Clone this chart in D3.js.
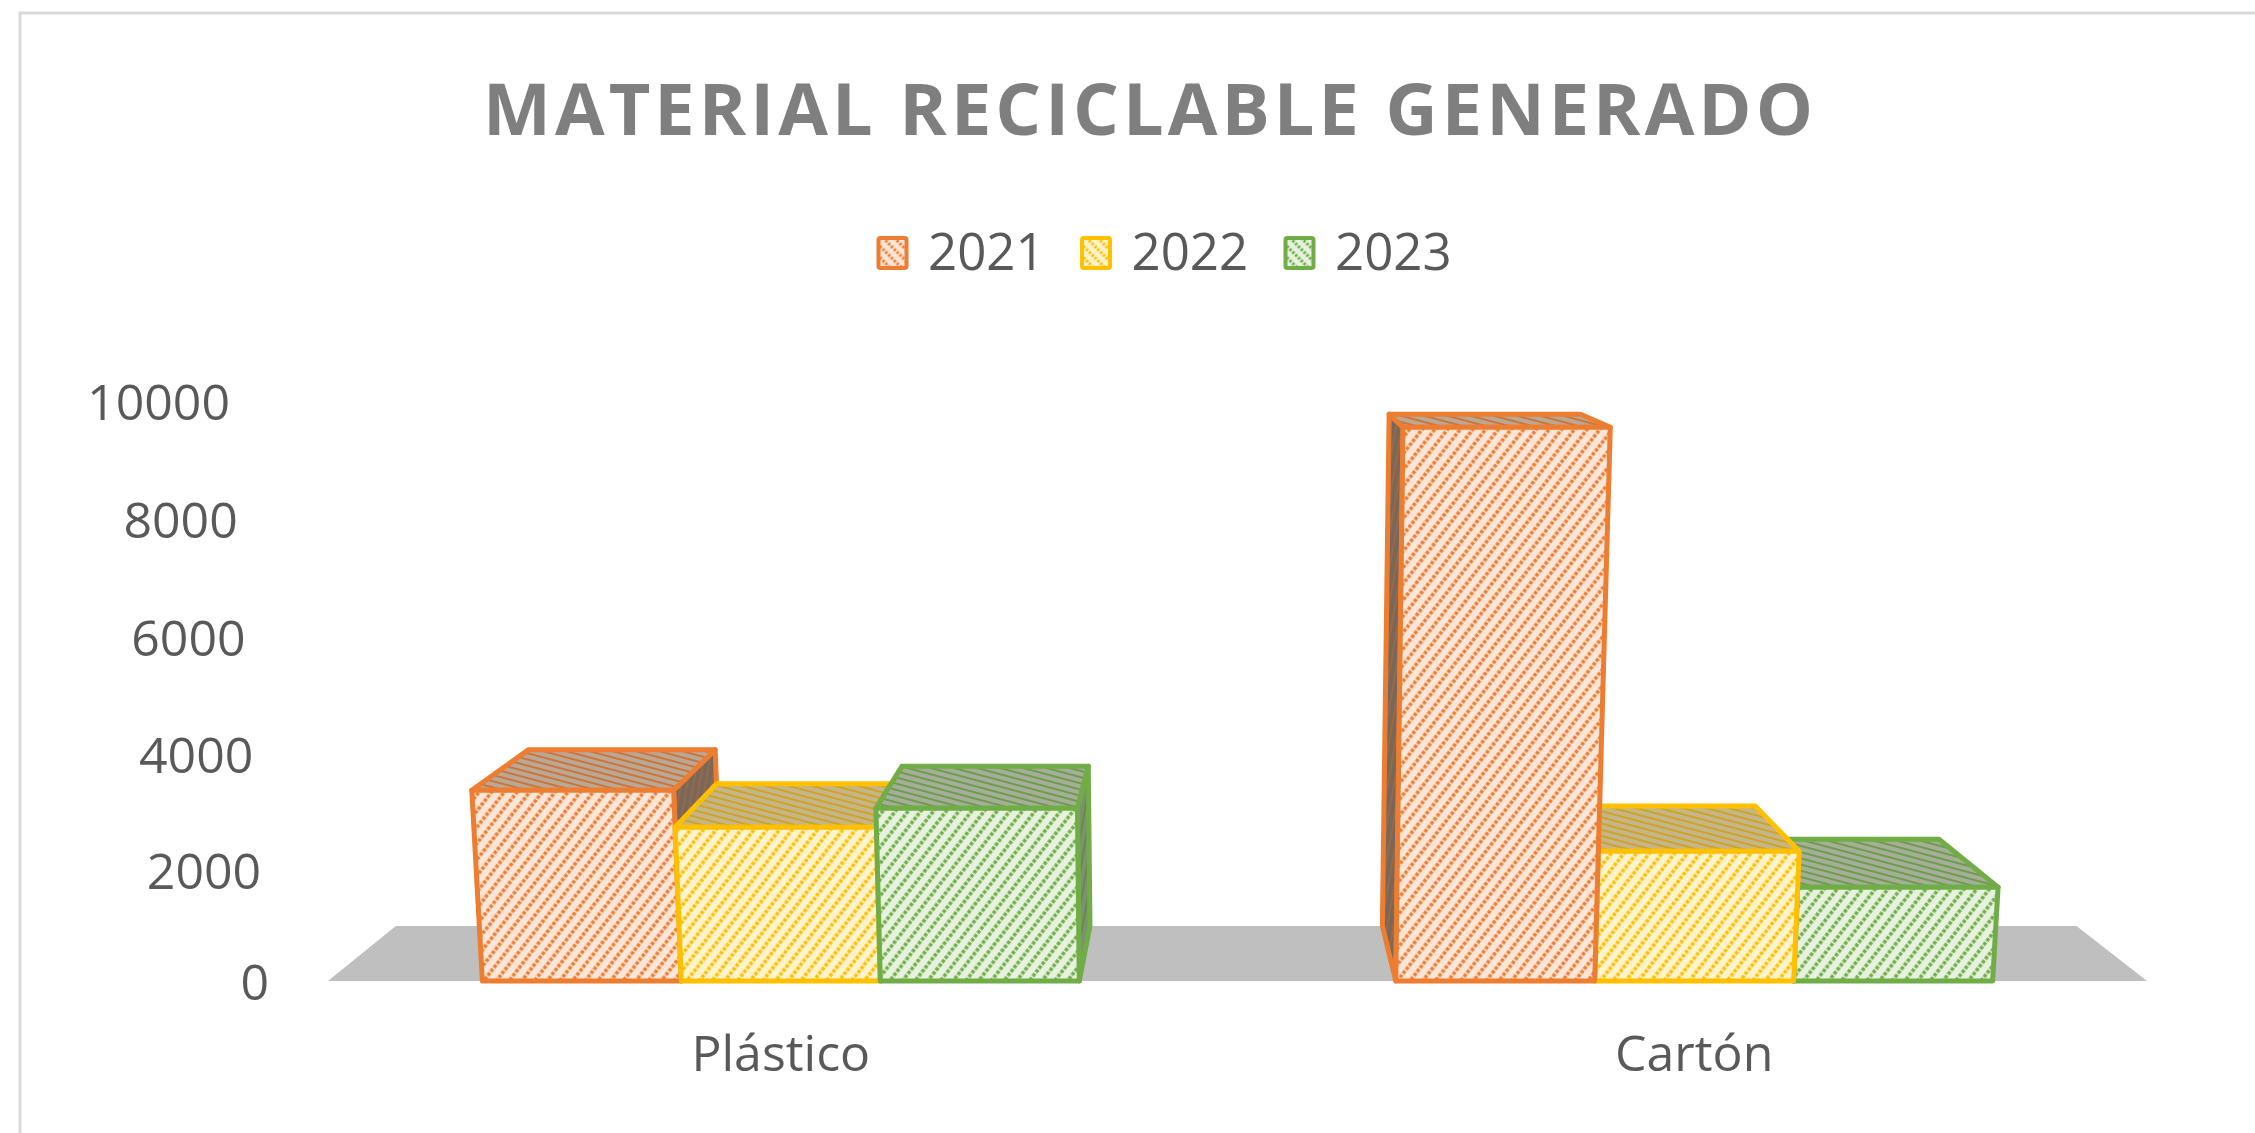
<!DOCTYPE html>
<html>
<head>
<meta charset="utf-8">
<script src="https://cdn.jsdelivr.net/npm/d3@7"></script>
<style>
  body { margin: 0; background: #fff; }
  svg { display: block; }
  text { font-family: "Open Sans", "Noto Sans", sans-serif; }
</style>
</head>
<body>
<svg id="chart"></svg>
<script>
// chart data
var categories = ["Plástico", "Cartón"];
var years = ["2021", "2022", "2023"];
var values2021 = [3390, 9560];
var values2022 = [2750, 2330];
var values2023 = [3080, 1700];
var yTicks = [0, 2000, 4000, 6000, 8000, 10000];
var title = "MATERIAL RECICLABLE GENERADO";

var series = [values2021, values2022, values2023];

// look
var colors = ["#ED7D31", "#FFC000", "#70AD47"];
var lightFill = ["#FDE6D8", "#FFF3CC", "#E6F2DE"];
var topBg = ["#bba894", "#c5b58a", "#a5af97"];
var topLine = ["#c8763c", "#cfa425", "#6e9b4f"];
var sideBg = ["#76685b", "#a8945c", "#7f8f72"];
var sideLine = ["#9a6846", "#c09a2c", "#668a4c"];

var screen = {width: 2255, height: 1133};
var svg = d3.select("#chart")
    .attr("width", screen.width)
    .attr("height", screen.height);

// 3d view: vanishing point for depth + small keystone on the verticals
var VP = {x: 1220, y: 256};
var depthS = 0.924;
var keyK = 7.5e-5;

var x = d3.scaleBand().domain(categories).range([328, 2147])
    .paddingInner(0.3465).paddingOuter(0.169);
var xs = d3.scaleBand().domain(years).range([0, x.bandwidth()]);
var y = d3.scalePow().exponent(1.028).domain([0, 10000]).range([981, 401]);
var labelX = d3.scaleLinear().domain([0, 10000]).range([269, 230]);
var base = y(0);

function proj(px, h, z) {
    var fx = VP.x + (px - VP.x) * (1 + keyK * h);
    var fy = base - h;
    if (!z) return [fx, fy];
    return [VP.x + (fx - VP.x) * depthS, VP.y + (fy - VP.y) * depthS];
}
var poly = function(pts) { return d3.line()(pts) + "Z"; };

// patterns
var defs = svg.append("defs");
function makePattern(id, size, rot, bg, line, w, dash) {
    var p = defs.append("pattern").attr("id", id)
        .attr("patternUnits", "userSpaceOnUse")
        .attr("width", size).attr("height", size)
        .attr("patternTransform", "rotate(" + rot + ")");
    p.append("rect").attr("width", size).attr("height", size).attr("fill", bg);
    p.append("line").attr("x1", size / 2).attr("x2", size / 2)
        .attr("y1", 0).attr("y2", size)
        .attr("stroke", line).attr("stroke-width", w)
        .attr("stroke-dasharray", dash);
}
colors.forEach(function(c, i) {
    makePattern("front" + i, 10, 38, lightFill[i], c, 3.5, "3.5 1.5");
    makePattern("top" + i, 6, -75, topBg[i], topLine[i], 2, "none");
    makePattern("side" + i, 6, 10, sideBg[i], sideLine[i], 2, "none");
    makePattern("leg" + i, 8, -45, lightFill[i], c, 3, "2.5 1.5");
});

// frame
svg.append("rect").attr("x", 20).attr("y", 13)
    .attr("width", screen.width).attr("height", screen.height)
    .attr("fill", "none").attr("stroke", "#d9d9d9").attr("stroke-width", 3);

// title
var t = svg.append("text").text(title)
    .attr("y", 135)
    .attr("font-size", 72).attr("font-weight", "bold")
    .attr("fill", "#7f7f7f");
var natural = t.node().getComputedTextLength();
var targetW = 1330;
var ls = (targetW - natural) / (title.length - 1);
t.attr("letter-spacing", ls).attr("x", 1148 - targetW / 2);

// legend
var legend = svg.append("g").selectAll("g").data(years).enter().append("g")
    .attr("transform", function(d, i) { return "translate(" + (877 + i * 203.5) + ",0)"; });
legend.append("rect").attr("x", 1.5).attr("y", 238).attr("width", 28).attr("height", 30)
    .attr("rx", 2)
    .attr("fill", function(d, i) { return "url(#leg" + i + ")"; })
    .attr("stroke", function(d, i) { return colors[i]; })
    .attr("stroke-width", 4);
legend.append("text").text(function(d) { return d; })
    .attr("x", 51).attr("y", 270)
    .attr("font-size", 51).attr("fill", "#595959");

// floor
var r = x.range();
svg.append("path")
    .attr("d", poly([proj(r[0], 0, 0), proj(r[1], 0, 0), proj(r[1], 0, 1), proj(r[0], 0, 1)]))
    .attr("fill", "#bfbfbf");

// value axis
var yAxis = svg.append("g")
    .call(d3.axisLeft(y).tickValues(yTicks).tickSize(0).tickFormat(d3.format("d")));
yAxis.select(".domain").remove();
yAxis.selectAll("text")
    .attr("x", function(d) { return labelX(d); })
    .attr("dy", "0.36em")
    .attr("text-anchor", "end")
    .attr("font-family", null)
    .attr("font-size", 50)
    .attr("fill", "#595959");

// category axis
var xAxis = svg.append("g").attr("transform", "translate(0," + base + ")")
    .call(d3.axisBottom(x).tickSize(0));
xAxis.select(".domain").remove();
xAxis.selectAll("text")
    .attr("y", 90).attr("dy", 0)
    .attr("font-family", null)
    .attr("font-size", 50)
    .attr("fill", "#595959");

// bars
var bars = [];
categories.forEach(function(cat, ci) {
    years.forEach(function(yr, si) {
        var x0 = x(cat) + xs(yr);
        var x1 = x0 + xs.bandwidth();
        bars.push({si: si, x0: x0, x1: x1, h: base - y(series[si][ci])});
    });
});
bars.sort(function(a, b) {
    return Math.abs((b.x0 + b.x1) / 2 - VP.x) - Math.abs((a.x0 + a.x1) / 2 - VP.x);
});

var g = svg.append("g").selectAll("g").data(bars).enter().append("g")
    .attr("stroke", function(d) { return colors[d.si]; })
    .attr("stroke-width", 5)
    .attr("stroke-linejoin", "round");

g.append("path")
    .attr("d", function(d) {
        var sx = d.x1 < VP.x ? d.x1 : d.x0;
        return poly([proj(sx, 0, 0), proj(sx, d.h, 0), proj(sx, d.h, 1), proj(sx, 0, 1)]);
    })
    .attr("fill", function(d) { return "url(#side" + d.si + ")"; });
g.append("path")
    .attr("d", function(d) {
        return poly([proj(d.x0, d.h, 0), proj(d.x1, d.h, 0), proj(d.x1, d.h, 1), proj(d.x0, d.h, 1)]);
    })
    .attr("fill", function(d) { return "url(#top" + d.si + ")"; });
g.append("path")
    .attr("d", function(d) {
        return poly([proj(d.x0, 0, 0), proj(d.x1, 0, 0), proj(d.x1, d.h, 0), proj(d.x0, d.h, 0)]);
    })
    .attr("fill", function(d) { return "url(#front" + d.si + ")"; });
</script>
</body>
</html>
